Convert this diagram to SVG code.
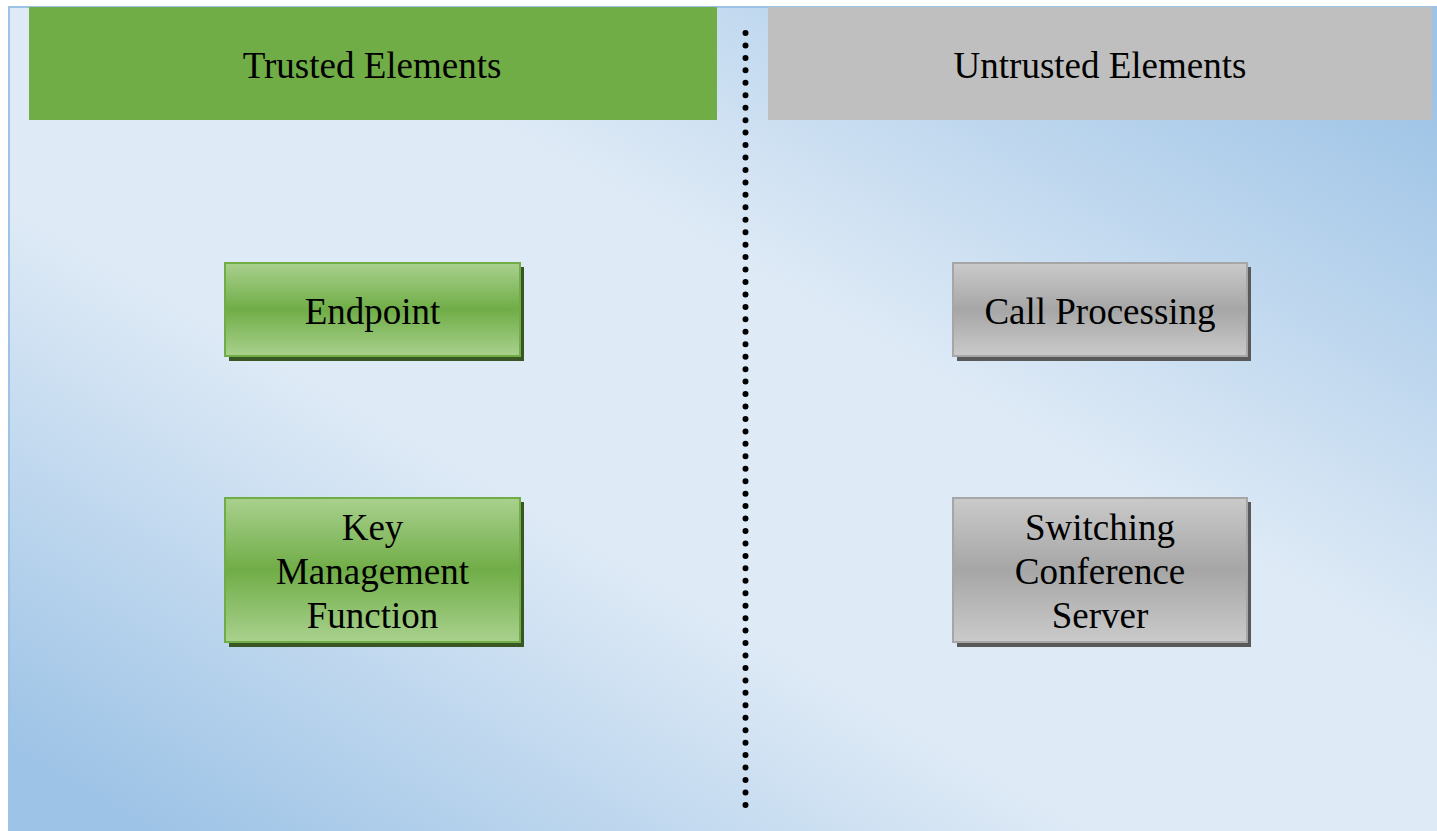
<svg xmlns="http://www.w3.org/2000/svg" width="1437" height="831" viewBox="0 0 1437 831">
<style>
.t{font-family:"Liberation Serif","Times New Roman",serif;font-size:37px;fill:#000;text-anchor:middle}
.gbox{fill:url(#gg);stroke:#70ad47;stroke-width:2}
.sbox{fill:url(#sg);stroke:#a6a6a6;stroke-width:2}
</style>
<defs>
<linearGradient id="bg" x1="0" y1="1" x2="1" y2="0">
<stop offset="0.05" stop-color="#9dc3e6"/>
<stop offset="0.38" stop-color="#deeaf6"/>
<stop offset="0.6" stop-color="#deeaf6"/>
<stop offset="0.95" stop-color="#9dc3e6"/>
</linearGradient>
<linearGradient id="gg" x1="0" y1="0" x2="0" y2="1">
<stop offset="0" stop-color="#a9d18e"/>
<stop offset="0.5" stop-color="#70ad47"/>
<stop offset="1" stop-color="#a9d18e"/>
</linearGradient>
<linearGradient id="sg" x1="0" y1="0" x2="0" y2="1">
<stop offset="0" stop-color="#cacaca"/>
<stop offset="0.5" stop-color="#a6a6a6"/>
<stop offset="1" stop-color="#cacaca"/>
</linearGradient>
</defs>
<rect x="9" y="7" width="1430" height="826" fill="url(#bg)" stroke="#9dc3e6" stroke-width="2"/>
<g id="trusted-header">
<rect x="29" y="7" width="688" height="113" fill="#70ad47"/>
<text class="t" x="372" y="78">Trusted Elements</text>
</g>
<g id="untrusted-header">
<rect x="768" y="7" width="664" height="113" fill="#bfbfbf"/>
<text class="t" x="1100" y="78">Untrusted Elements</text>
</g>
<g id="connectors">
<line x1="745.5" y1="33" x2="745.5" y2="805" stroke="#000" stroke-width="6" stroke-linecap="round" stroke-dasharray="0 12.45"/>
</g>
<g id="endpoint">
<rect x="229" y="267" width="295" height="94" fill="#385723"/>
<rect class="gbox" x="225" y="263" width="295" height="93"/>
<text class="t" x="372.5" y="324">Endpoint</text>
</g>
<g id="key-management">
<rect x="229" y="502" width="295" height="145" fill="#385723"/>
<rect class="gbox" x="225" y="498" width="295" height="144"/>
<text class="t" x="372.5" y="540">Key</text>
<text class="t" x="372.5" y="584">Management</text>
<text class="t" x="372.5" y="628">Function</text>
</g>
<g id="call-processing">
<rect x="957" y="267" width="294" height="94" fill="#595959"/>
<rect class="sbox" x="953" y="263" width="294" height="93"/>
<text class="t" x="1100" y="324">Call Processing</text>
</g>
<g id="switching">
<rect x="957" y="502" width="294" height="145" fill="#595959"/>
<rect class="sbox" x="953" y="498" width="294" height="144"/>
<text class="t" x="1100" y="540">Switching</text>
<text class="t" x="1100" y="584">Conference</text>
<text class="t" x="1100" y="628">Server</text>
</g>
</svg>
